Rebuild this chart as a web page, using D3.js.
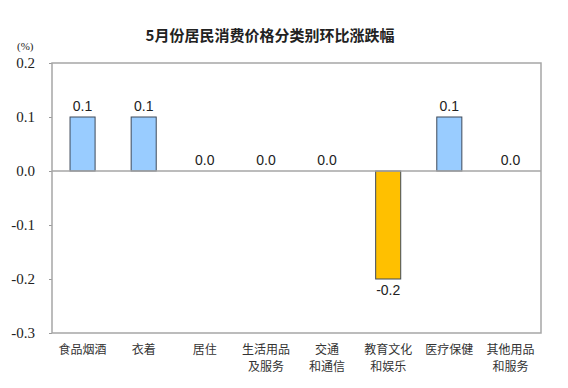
<!DOCTYPE html>
<html>
<head>
<meta charset="utf-8">
<script src="https://cdn.jsdelivr.net/npm/d3@7"></script>
<style>
  body { margin: 0; background: #fff; }
  svg { display: block; }
</style>
</head>
<body>
<div id="chart"></div>
<script>
// data
var categories = ["食品烟酒", "衣着", "居住", "生活用品\n及服务", "交通\n和通信", "教育文化\n和娱乐", "医疗保健", "其他用品\n和服务"];
var values = [0.1, 0.1, 0.0, 0.0, 0.0, -0.2, 0.1, 0.0];
var yTicks = [0.2, 0.1, 0.0, -0.1, -0.2, -0.3];

var width = 568, height = 388;
var margin = {top: 63, right: 27, bottom: 55, left: 52};

// plain hyphen for negatives, like the original
var fmt = function(d) { return d3.format(".1f")(d).replace("−", "-"); };

var svg = d3.select("#chart").append("svg")
    .attr("width", width)
    .attr("height", height);

var x = d3.scaleBand()
    .domain(d3.range(categories.length))
    .range([margin.left, width - margin.right])
    .paddingInner(0.59)
    .paddingOuter(0.295);

var y = d3.scaleLinear()
    .domain([-0.3, 0.2])
    .range([height - margin.bottom, margin.top]);

// title
svg.append("text")
    .attr("x", 270).attr("y", 41)
    .attr("text-anchor", "middle")
    .style("font-family", "'Noto Sans CJK SC', sans-serif")
    .style("font-size", "15px")
    .style("font-weight", "bold")
    .style("fill", "#222")
    .text("5月份居民消费价格分类别环比涨跌幅");

// unit
svg.append("text")
    .attr("x", 17).attr("y", 50)
    .style("font-family", "'Liberation Serif', serif")
    .style("font-size", "11px")
    .style("fill", "#222")
    .text("(%)");

// y axis
var yAxis = svg.append("g")
    .attr("transform", "translate(" + margin.left + ",0)")
    .call(d3.axisLeft(y).tickValues(yTicks).tickSize(3).tickPadding(14)
      .tickFormat(fmt));
yAxis.select(".domain").remove();
yAxis.selectAll("line").attr("stroke", "#999");
yAxis.selectAll("text")
    .style("font-family", "'Liberation Serif', serif")
    .style("font-size", "15px")
    .style("fill", "#222");

// plot frame
svg.append("rect")
    .attr("x", margin.left).attr("y", margin.top)
    .attr("width", width - margin.left - margin.right)
    .attr("height", height - margin.top - margin.bottom)
    .attr("fill", "none")
    .attr("stroke", "#a6a6a6")
    .attr("stroke-width", 1.5);

// bars
svg.selectAll("rect.bar")
    .data(values)
    .enter().append("rect")
    .attr("class", "bar")
    .attr("x", function(d, i) { return x(i); })
    .attr("width", x.bandwidth())
    .attr("y", function(d) { return y(Math.max(0, d)); })
    .attr("height", function(d) { return Math.abs(y(d) - y(0)); })
    .attr("fill", function(d) { return d < 0 ? "#ffc000" : "#99ccff"; })
    .attr("stroke", "#3f4a5a")
    .attr("stroke-width", 1)
    .style("display", function(d) { return d === 0 ? "none" : null; });

// zero line
svg.append("line")
    .attr("x1", margin.left).attr("x2", width - margin.right)
    .attr("y1", y(0)).attr("y2", y(0))
    .attr("stroke", "#a6a6a6")
    .attr("stroke-width", 1.5);

// value labels
svg.selectAll("text.val")
    .data(values)
    .enter().append("text")
    .attr("class", "val")
    .attr("x", function(d, i) { return x(i) + x.bandwidth() / 2; })
    .attr("y", function(d) { return d < 0 ? y(d) + 16 : y(d) - 6; })
    .attr("text-anchor", "middle")
    .style("font-family", "'Liberation Sans', Arial, sans-serif")
    .style("font-size", "14px")
    .style("fill", "#222")
    .text(fmt);

// category labels
var cat = svg.selectAll("text.cat")
    .data(categories)
    .enter().append("text")
    .attr("class", "cat")
    .attr("x", function(d, i) { return x(i) + x.bandwidth() / 2; })
    .attr("y", 354)
    .attr("text-anchor", "middle")
    .style("font-family", "'Noto Sans CJK SC', sans-serif")
    .style("font-size", "12px")
    .style("fill", "#333");

cat.each(function(d) {
  var t = d3.select(this);
  d.split("\n").forEach(function(line, k) {
    t.append("tspan")
      .attr("x", t.attr("x"))
      .attr("dy", k === 0 ? 0 : 17)
      .text(line);
  });
});
</script>
</body>
</html>
